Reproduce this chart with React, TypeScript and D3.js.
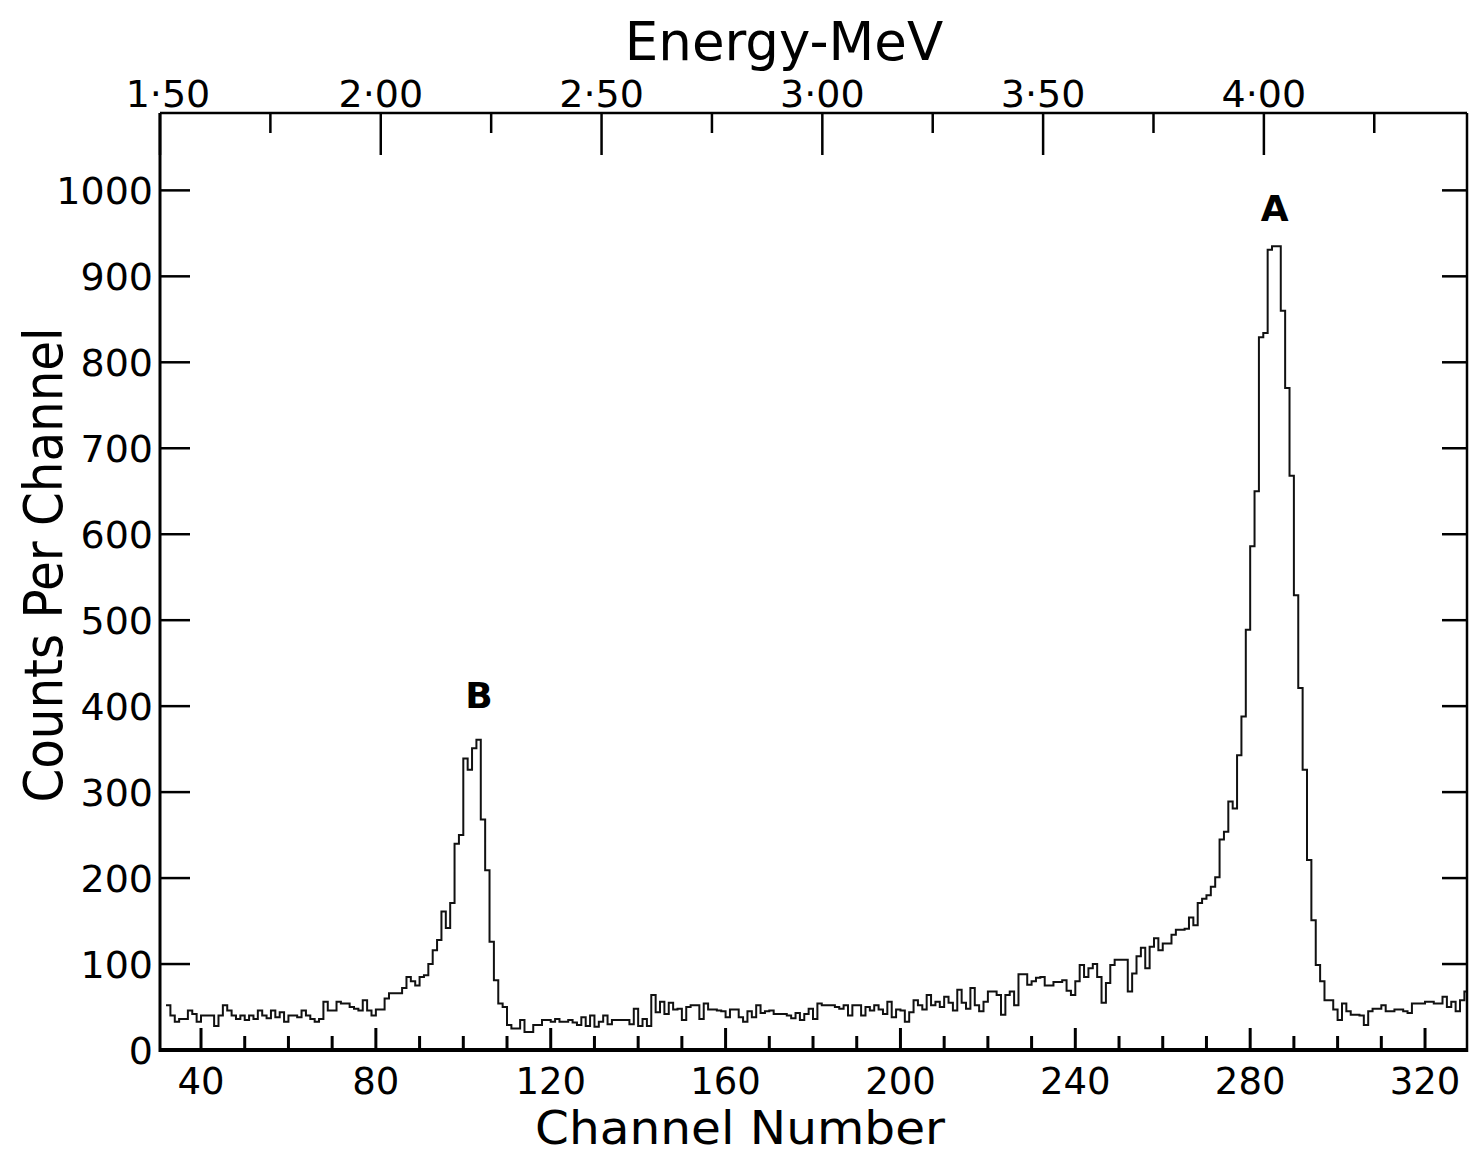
import React from 'react';
import * as d3 from 'd3';

// Pulse-height spectrum: counts recorded in each analyser channel, starting at channel 32.
const firstChannel = 32;
const counts: number[] = [
  // 32-39
  52, 40, 33, 36, 36, 46, 42, 33,
  // 40-49
  40, 40, 40, 28, 40, 52, 46, 40, 36, 40,
  // 50-59
  35, 40, 36, 46, 40, 37, 46, 38, 44, 33,
  // 60-69
  40, 40, 38, 46, 40, 36, 33, 36, 56, 46,
  // 70-79
  46, 56, 54, 54, 50, 48, 46, 58, 46, 40,
  // 80-89
  47, 47, 60, 66, 66, 66, 72, 85, 80, 75,
  // 90-99
  85, 87, 100, 116, 128, 161, 142, 171, 240, 250,
  // 100-109 (peak B)
  339, 326, 351, 361, 268, 209, 126, 81, 54, 50,
  // 110-119
  29, 25, 25, 35, 21, 21, 29, 29, 35, 35,
  // 120-129
  33, 36, 33, 33, 35, 32, 29, 38, 28, 40,
  // 130-139
  27, 33, 40, 30, 35, 35, 35, 35, 30, 48,
  // 140-149
  28, 36, 28, 64, 44, 56, 42, 55, 47, 48,
  // 150-159
  35, 50, 52, 52, 36, 54, 47, 47, 46, 45,
  // 160-169
  38, 47, 47, 38, 33, 45, 38, 52, 43, 45,
  // 170-179
  46, 42, 42, 42, 40, 37, 43, 35, 42, 48,
  // 180-189
  36, 54, 52, 52, 52, 50, 48, 52, 40, 52,
  // 190-199
  52, 40, 50, 46, 52, 47, 42, 56, 38, 47,
  // 200-209
  46, 33, 44, 58, 52, 47, 64, 52, 56, 50,
  // 210-219
  62, 55, 46, 70, 55, 48, 72, 52, 45, 56,
  // 220-229
  68, 68, 64, 41, 64, 68, 52, 88, 88, 76,
  // 230-239
  80, 84, 85, 75, 75, 79, 79, 81, 69, 64,
  // 240-249
  80, 99, 85, 95, 100, 85, 55, 78, 99, 105,
  // 250-259
  105, 105, 68, 89, 109, 119, 95, 120, 130, 116,
  // 260-269
  124, 124, 134, 140, 140, 141, 154, 145, 171, 176,
  // 270-279
  180, 190, 201, 245, 254, 289, 281, 343, 388, 489,
  // 280-289 (peak A)
  586, 650, 829, 834, 931, 935, 935, 860, 770, 668,
  // 290-299
  529, 421, 326, 221, 151, 99, 80, 58, 58, 47,
  // 300-309
  35, 54, 45, 41, 41, 40, 29, 45, 48, 48,
  // 310-319
  52, 45, 45, 47, 47, 45, 43, 54, 54, 54,
  // 320-329
  56, 56, 54, 54, 62, 50, 56, 45, 58, 68,
];

const channelMajorTicks = [40, 80, 120, 160, 200, 240, 280, 320];
const channelMinorTicks = [50, 60, 70, 90, 100, 110, 130, 140, 150, 170, 180, 190, 210, 220, 230, 250, 260, 270, 290, 300, 310];
const countTicks = [0, 100, 200, 300, 400, 500, 600, 700, 800, 900, 1000];
const energyMajorTicks = [1.5, 2.0, 2.5, 3.0, 3.5, 4.0];
const energyMajorLabels = ['1·50', '2·00', '2·50', '3·00', '3·50', '4·00'];
const energyMinorTicks = [1.75, 2.25, 2.75, 3.25, 3.75, 4.25];
const peakNames = ['A', 'B'];
const peakChannels = [285.6, 103.6];
const peakLabelCounts = [980, 413];

const W = 1474;
const H = 1154;
const frame = { left: 160, right: 1467, top: 113, bottom: 1050 };
const font = '"DejaVu Sans", sans-serif';

export default function App() {
  const x = d3.scaleLinear().domain([30.62, 329.6]).range([frame.left, frame.right]);
  const energy = d3.scaleLinear().domain([1.5, 4.46]).range([frame.left, frame.right]);
  const y = d3.scaleLinear().domain([0, 1090]).range([frame.bottom, frame.top]);

  const pts: [number, number][] = counts.map((v, i) => [firstChannel + i, v]);
  pts.push([x.domain()[1], counts[counts.length - 1]]);
  const stepLine = d3
    .line<[number, number]>()
    .x((d) => x(d[0]))
    .y((d) => y(d[1]))
    .curve(d3.curveStepAfter);

  return (
    <svg
      width={W}
      height={H}
      viewBox={`0 0 ${W} ${H}`}
      style={{ position: 'absolute', left: 0, top: 0, background: '#fff' }}
      fontFamily={font}
    >
      <rect x={0} y={0} width={W} height={H} fill="#fff" />

      {/* spectrum */}
      <defs>
        <clipPath id="plotArea">
          <rect x={frame.left} y={frame.top} width={frame.right - frame.left} height={frame.bottom - frame.top} />
        </clipPath>
      </defs>
      <path d={stepLine(pts) || ''} fill="none" stroke="#111" strokeWidth={2} clipPath="url(#plotArea)" />

      {/* frame */}
      <line x1={frame.left} x2={frame.right} y1={frame.bottom} y2={frame.bottom} stroke="#000" strokeWidth={4} />
      <line x1={frame.left} x2={frame.left} y1={frame.top} y2={frame.bottom + 2} stroke="#000" strokeWidth={3} />
      <line x1={frame.left} x2={frame.right} y1={frame.top} y2={frame.top} stroke="#000" strokeWidth={2.5} />
      <line x1={frame.right} x2={frame.right} y1={frame.top} y2={frame.bottom + 2} stroke="#000" strokeWidth={2.5} />

      {/* bottom axis: channel number */}
      {channelMajorTicks.map((c) => (
        <g key={`cM${c}`}>
          <line x1={x(c)} x2={x(c)} y1={frame.bottom} y2={frame.bottom - 22} stroke="#000" strokeWidth={3} />
          <text x={x(c)} y={1094} fontSize={37} textAnchor="middle" fill="#000">
            {c}
          </text>
        </g>
      ))}
      {channelMinorTicks.map((c) => (
        <line key={`cm${c}`} x1={x(c)} x2={x(c)} y1={frame.bottom} y2={frame.bottom - 14} stroke="#000" strokeWidth={3} />
      ))}
      <text x={740} y={1144} fontSize={46} textAnchor="middle" textLength={410} lengthAdjust="spacingAndGlyphs" fill="#000">
        Channel  Number
      </text>

      {/* left and right axes: counts */}
      {countTicks.map((v) => (
        <g key={`y${v}`}>
          <line x1={frame.left} x2={frame.left + 30} y1={y(v)} y2={y(v)} stroke="#000" strokeWidth={2.5} />
          {v > 0 && <line x1={frame.right} x2={frame.right - 25} y1={y(v)} y2={y(v)} stroke="#000" strokeWidth={2.5} />}
          <text x={153} y={y(v)} dy="0.36em" fontSize={38} textAnchor="end" fill="#000">
            {v}
          </text>
        </g>
      ))}
      <text
        transform={`translate(62, 565) rotate(-90)`}
        fontSize={54}
        textAnchor="middle"
        textLength={475}
        lengthAdjust="spacingAndGlyphs"
        fill="#000"
      >
        Counts Per Channel
      </text>

      {/* top axis: energy */}
      {energyMajorTicks.map((e, i) => (
        <g key={`eM${e}`}>
          <line x1={energy(e)} x2={energy(e)} y1={frame.top} y2={frame.top + 42} stroke="#000" strokeWidth={2.5} />
          <text x={energy(e) + (i === 0 ? 8 : 0)} y={107} fontSize={38} textAnchor="middle" fill="#000">
            {energyMajorLabels[i]}
          </text>
        </g>
      ))}
      {energyMinorTicks.map((e) => (
        <line key={`em${e}`} x1={energy(e)} x2={energy(e)} y1={frame.top} y2={frame.top + 20} stroke="#000" strokeWidth={2.5} />
      ))}
      <text x={784} y={60} fontSize={53} textAnchor="middle" fill="#000">
        Energy-MeV
      </text>

      {/* peak annotations */}
      {peakNames.map((n, i) => (
        <text key={n} x={x(peakChannels[i])} y={y(peakLabelCounts[i])} dy="0.36em" fontSize={36} fontWeight={600} textAnchor="middle" fill="#000">
          {n}
        </text>
      ))}
    </svg>
  );
}
